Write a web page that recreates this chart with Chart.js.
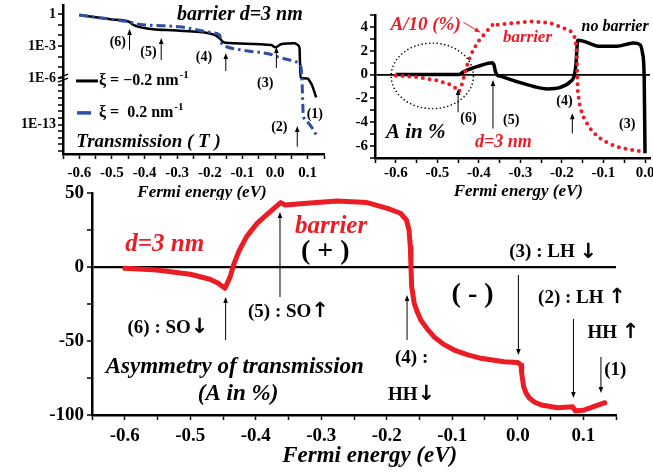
<!DOCTYPE html>
<html><head><meta charset="utf-8">
<script src="https://cdn.jsdelivr.net/npm/chart.js@4/dist/chart.umd.min.js"></script>
<style>
html,body{margin:0;padding:0;width:653px;height:472px;overflow:hidden;background:#fff;position:relative}
canvas{position:absolute}
</style></head><body>
<canvas id="cT" width="360" height="230" style="left:0;top:-30px"></canvas>
<canvas id="cA" width="360" height="230" style="left:330px;top:-30px"></canvas>
<canvas id="cB" width="653" height="312" style="left:0;top:160px"></canvas>
<script>
// ---------- DATA ----------
// Bottom panel: asymmetry of transmission with barrier (d = 3 nm), A in %
const energyBarrier = [-0.6, -0.551, -0.5, -0.47, -0.458, -0.447, -0.443, -0.439, -0.433, -0.426, -0.414, -0.398, -0.381, -0.362, -0.355, -0.322, -0.276, -0.23, -0.199, -0.179, -0.17, -0.166, -0.164, -0.163, -0.162, -0.158, -0.153, -0.148, -0.138, -0.128, -0.113, -0.097, -0.076, -0.056, -0.021, 0.0, 0.005, 0.006, 0.009, 0.013, 0.018, 0.026, 0.036, 0.061, 0.084, 0.088, 0.102, 0.133];
const asymBarrier = [-0.9, -2.0, -4.9, -8.3, -10.8, -14.4, -10.4, -6.5, 2.5, 10.4, 20.5, 29.5, 36.3, 43.5, 41.9, 43.0, 44.6, 43.5, 39.6, 36.3, 31.8, 25.0, 13.7, 0.2, -13.3, -24.5, -30.8, -35.8, -42.0, -47.1, -52.3, -56.1, -59.4, -61.7, -64.0, -64.6, -66.2, -71.8, -80.9, -85.5, -88.7, -91.4, -93.2, -95.1, -94.4, -97.3, -96.6, -91.7];

// Top-right panel: no barrier, A in %
const energyNoBarrier = [-0.6, -0.448, -0.436, -0.396, -0.368, -0.364, -0.36, -0.356, -0.348, -0.308, -0.268, -0.236, -0.204, -0.18, -0.17, -0.166, -0.164, -0.162, -0.148, -0.108, -0.068, -0.028, -0.012, -0.006, -0.002, 0.0];
const asymNoBarrier = [0, 0, 0.25, 0.76, 1.0, 0.85, 0.25, -0.03, -0.13, -0.6, -1.0, -1.2, -1.07, -0.6, -0.03, 0.96, 2.09, 2.88, 2.8, 2.37, 2.37, 2.66, 2.5, 1.8, -0.18, -6.6];

// Top-left panel: transmission T (log10), xi = -0.2 nm^-1 and xi = +0.2 nm^-1
const energyTminus = [-0.6, -0.55, -0.5, -0.448, -0.433, -0.393, -0.292, -0.19, -0.17, -0.16, -0.153, -0.011, 0.001, 0.02, 0.06, 0.07, 0.075, 0.078, 0.1, 0.104, 0.113, 0.126];
const logTminus = [-0.09, -0.3, -0.5, -0.72, -1.03, -1.34, -1.56, -1.9, -2.27, -2.59, -2.68, -2.9, -3.11, -2.8, -2.74, -2.9, -3.2, -5.95, -6.05, -6.27, -7.03, -8.89];
const energyTplus = [-0.6, -0.55, -0.5, -0.448, -0.423, -0.392, -0.292, -0.19, -0.17, -0.164, -0.149, -0.088, -0.017, 0.013, 0.064, 0.079, 0.082, 0.084, 0.086, 0.089, 0.099, 0.114, 0.126];
const logTplus = [-0.09, -0.3, -0.5, -0.72, -0.93, -1.03, -1.19, -1.75, -1.96, -2.74, -3.06, -3.43, -3.74, -4.05, -4.46, -4.92, -5.86, -8.27, -11.29, -12.05, -12.56, -13.55, -14.56];

// Tick labels
const xMajorWide = [-0.6, -0.5, -0.4, -0.3, -0.2, -0.1, 0.0, 0.1];
const xMajorRight = [-0.6, -0.5, -0.4, -0.3, -0.2, -0.1, 0.0];
const yMajorBottom = [50, 0, -50, -100];
const yMajorRight = [4, 2, 0, -2, -4, -6];
const logMajorTop = [0, -3, -6, -13];
const logMajorLabels = ['1', '1E-3', '1E-6', '1E-13'];

// ---------- STYLE ----------
const SERIF = '"Liberation Serif", "Times New Roman", serif';
const SANS = '"DejaVu Sans", sans-serif';
const RED = '#ec1c24', BLUE = '#2f4ea6';
const F = (size, italic) => (italic ? 'italic ' : '') + 'bold ' + size + 'px ' + SERIF;
Chart.defaults.font.family = SERIF;
Chart.defaults.font.weight = 'bold';
Chart.defaults.color = '#000';

// axis break on the transmission axis (below 1E-6 the decades are compressed)
const BREAK = -6, SQUEEZE = 0.62;
const tPos = lg => lg >= BREAK ? lg : BREAK + (lg - BREAK) * SQUEEZE;

function near(arr, v) { return arr.findIndex(q => Math.abs(q - v) < 1e-6); }
const tickFont = size => ({ family: SERIF, size, weight: 'bold', style: 'normal', lineHeight: 1.2 });

function xAxis(min, max, majors, h, size, pad) {
  return {
    type: 'linear', min, max,
    afterBuildTicks(s) { const t = []; for (let k = Math.ceil(min / 0.05 - 1e-9); k * 0.05 <= max + 1e-9; k++) t.push({ value: Math.round(k * 5) / 100 }); s.ticks = t; },
    afterFit(s) { s.height = h; },
    ticks: { autoSkip: false, maxRotation: 0, minRotation: 0, padding: pad, color: '#000', font: tickFont(size),
      callback(v) { const i = near(majors, v); return i < 0 ? '' : majors[i].toFixed(1); } },
    grid: { drawOnChartArea: false, drawTicks: true, tickLength: 5, tickColor: '#000', tickWidth: 1.5 },
    border: { display: true, color: '#000', width: 2.5 }
  };
}
function yAxis(min, max, tickVals, majors, labels, w, size, pad, zeroLine) {
  return {
    type: 'linear', min, max,
    afterBuildTicks(s) { s.ticks = tickVals.map(v => ({ value: v })); },
    afterFit(s) { s.width = w; },
    ticks: { autoSkip: false, padding: pad, color: '#000', font: tickFont(size),
      callback(v) { const i = near(majors, v); return i < 0 ? '' : labels[i]; } },
    grid: { drawOnChartArea: !!zeroLine, drawTicks: true, tickLength: 5, tickColor: '#000', tickWidth: 1.5,
      color: c => (zeroLine && c.tick && Math.abs(c.tick.value) < 1e-9) ? '#000' : 'rgba(0,0,0,0)',
      lineWidth: c => (zeroLine && c.tick && Math.abs(c.tick.value) < 1e-9) ? zeroLine : 0 },
    border: { display: true, color: '#000', width: 2.5 }
  };
}

// ---------- drawing helpers ----------
function P(ch, x, y) { return [ch.scales.x.getPixelForValue(x), ch.scales.y.getPixelForValue(y)]; }
function txt(ch, s, x, y, font, color, align) {
  const ctx = ch.ctx, [X, Y] = P(ch, x, y);
  ctx.save(); ctx.font = font; ctx.fillStyle = color || '#000'; ctx.textAlign = align || 'center'; ctx.textBaseline = 'middle';
  ctx.fillText(s, X, Y); ctx.restore();
  return X;
}
// label followed by a big bold arrow glyph (spin up / down), centred on the data point
function spinTxt(ch, main, arr, x, y, size) {
  const ctx = ch.ctx, [X, Y] = P(ch, x, y);
  ctx.save(); ctx.fillStyle = '#000'; ctx.textBaseline = 'middle'; ctx.textAlign = 'left';
  ctx.font = F(size); const w1 = ctx.measureText(main).width;
  ctx.font = 'bold ' + Math.round(size * 1.1) + 'px ' + SANS; const w2 = ctx.measureText(arr).width;
  const x0 = X - (w1 + w2) / 2;
  ctx.font = F(size); ctx.fillText(main, x0, Y);
  ctx.font = 'bold ' + Math.round(size * 1.1) + 'px ' + SANS; ctx.fillText(arr, x0 + w1, Y);
  ctx.restore();
}
function arrow(ch, x1, y1, x2, y2, color, w) {
  const ctx = ch.ctx, [a, b] = P(ch, x1, y1), [c, d] = P(ch, x2, y2);
  color = color || '#000';
  const ang = Math.atan2(d - b, c - a), L = 6, W = 2.3;
  ctx.save(); ctx.strokeStyle = color; ctx.fillStyle = color; ctx.lineWidth = w || 1;
  ctx.beginPath(); ctx.moveTo(a, b); ctx.lineTo(c - (L - 1) * Math.cos(ang), d - (L - 1) * Math.sin(ang)); ctx.stroke();
  ctx.beginPath(); ctx.moveTo(c, d);
  ctx.lineTo(c - L * Math.cos(ang) + W * Math.sin(ang), d - L * Math.sin(ang) - W * Math.cos(ang));
  ctx.lineTo(c - L * Math.cos(ang) - W * Math.sin(ang), d - L * Math.sin(ang) + W * Math.cos(ang));
  ctx.closePath(); ctx.fill(); ctx.restore();
}
function xTitle(ch, s, x, dy, size) {
  const ctx = ch.ctx; ctx.save(); ctx.font = F(size, true); ctx.fillStyle = '#000'; ctx.textAlign = 'center'; ctx.textBaseline = 'middle';
  ctx.fillText(s, ch.scales.x.getPixelForValue(x), ch.chartArea.bottom + dy); ctx.restore();
}
// text with a superscript suffix, left aligned at data point
function supTxt(ch, main, sup, x, y, size) {
  const ctx = ch.ctx, [X, Y] = P(ch, x, y);
  ctx.save(); ctx.fillStyle = '#000'; ctx.textAlign = 'left'; ctx.textBaseline = 'middle';
  ctx.font = F(size); ctx.fillText(main, X, Y);
  const w = ctx.measureText(main).width;
  ctx.font = F(Math.round(size * 0.68)); ctx.fillText(sup, X + w + 1, Y - size * 0.35);
  ctx.restore();
}
const pts = (xs, ys, f) => xs.map((x, i) => ({ x, y: f ? f(ys[i]) : ys[i] }));

// ---------- TOP-LEFT: transmission ----------
const decadeTicks = []; for (let d = 0; d >= -17; d--) decadeTicks.push(tPos(d));
new Chart(document.getElementById('cT'), {
  type: 'line',
  data: { datasets: [
    { label: 'ξ = 0.2 nm-1', data: pts(energyTplus, logTplus, tPos), borderColor: BLUE, borderWidth: 3, borderDash: [9, 4, 2.5, 4], pointRadius: 0, cubicInterpolationMode: 'monotone' },
    { label: 'ξ = −0.2 nm-1', data: pts(energyTminus, logTminus, tPos), borderColor: '#000', borderWidth: 2.5, pointRadius: 0, cubicInterpolationMode: 'monotone' }
  ] },
  options: {
    responsive: false, animation: false, devicePixelRatio: 1,
    layout: { padding: { left: 0, top: 35, right: 36, bottom: 0 } },
    plugins: { legend: { display: false }, tooltip: { enabled: false } },
    scales: {
      x: xAxis(-0.65, 0.15, xMajorWide, 46, 15, 5),
      y: yAxis(-13.1, 0.85, decadeTicks, logMajorTop.map(tPos), logMajorLabels, 63, 14, 2, 0)
    }
  },
  plugins: [{ id: 'annT', afterDraw(ch) {
    const ctx = ch.ctx;
    txt(ch, 'barrier d=3 nm', -0.108, -0.09, F(20, true));
    txt(ch, '(6)', -0.482, -2.62, F(14)); arrow(ch, -0.446, -3.36, -0.446, -1.4);
    txt(ch, '(5)', -0.388, -3.55, F(14)); arrow(ch, -0.349, -4.3, -0.349, -2.24);
    txt(ch, '(4)', -0.218, -4.02, F(14)); arrow(ch, -0.151, -5.33, -0.151, -3.64);
    txt(ch, '(3)', -0.03, -6.45, F(14)); arrow(ch, 0.004, -5.05, 0.004, -3.08);
    txt(ch, '(2)', 0.013, -10.65, F(14)); arrow(ch, 0.068, -12.43, 0.068, -10.47);
    txt(ch, '(1)', 0.122, -9.35, F(14));
    // legend
    let [a, b] = P(ch, -0.61, -6.26), [c] = P(ch, -0.543, 0);
    ctx.save(); ctx.strokeStyle = '#000'; ctx.lineWidth = 3; ctx.beginPath(); ctx.moveTo(a, b); ctx.lineTo(c, b); ctx.stroke(); ctx.restore();
    supTxt(ch, 'ξ = −0.2 nm', '-1', -0.54, -6.26, 16);
    [a, b] = P(ch, -0.607, -9.25); [c] = P(ch, -0.564, 0);
    ctx.save(); ctx.strokeStyle = BLUE; ctx.lineWidth = 3.5; ctx.beginPath(); ctx.moveTo(a, b); ctx.lineTo(c, b); ctx.stroke(); ctx.restore();
    supTxt(ch, 'ξ =  0.2 nm', '-1', -0.54, -9.25, 16);
    txt(ch, 'Transmission ( T )', -0.388, -11.96, F(19, true));
    // axis break mark
    const [bx, by] = P(ch, -0.65, tPos(-6));
    ctx.save(); ctx.strokeStyle = '#000'; ctx.lineWidth = 1.3;
    [-2, 2].forEach(o => { ctx.beginPath(); ctx.moveTo(bx - 5, by + o + 2); ctx.lineTo(bx + 5, by + o - 2); ctx.stroke(); });
    ctx.restore();
    xTitle(ch, 'Fermi energy (eV)', -0.224, 39, 17);
  } }]
});

// ---------- TOP-RIGHT: A in % ----------
new Chart(document.getElementById('cA'), {
  type: 'line',
  data: { datasets: [
    { label: 'A/10 (%) barrier', data: energyBarrier.map((x, i) => ({ x, y: asymBarrier[i] / 10 })).filter(p => p.x <= 0), borderColor: RED, borderWidth: 4, borderDash: [0, 6.8], borderCapStyle: 'round', pointRadius: 0, tension: 0 },
    { label: 'no barrier', data: pts(energyNoBarrier, asymNoBarrier), borderColor: '#000', borderWidth: 3.5, pointRadius: 0, cubicInterpolationMode: 'monotone' }
  ] },
  options: {
    responsive: false, animation: false, devicePixelRatio: 1,
    layout: { padding: { left: 0, top: 45, right: 40, bottom: 0 } },
    plugins: { legend: { display: false }, tooltip: { enabled: false } },
    scales: {
      x: xAxis(-0.65, 0.012, xMajorRight, 42, 15, 1),
      y: yAxis(-7, 5, [-7, -6, -5, -4, -3, -2, -1, 0, 1, 2, 3, 4, 5], yMajorRight, yMajorRight.map(String), 45, 15, 2, 1.8)
    }
  },
  plugins: [{ id: 'annA', afterDraw(ch) {
    const ctx = ch.ctx;
    txt(ch, 'A/10 (%)', -0.528, 4.13, F(19, true), RED);
    arrow(ch, -0.437, 4.38, -0.396, 3.53, RED, 1);
    txt(ch, 'barrier', -0.283, 3.11, F(17, true), RED);
    txt(ch, 'no barrier', -0.072, 4.04, F(16, true));
    txt(ch, '(6)', -0.425, -3.68, F(14)); arrow(ch, -0.45, -3.16, -0.45, -1.21);
    txt(ch, '(5)', -0.322, -3.85, F(14)); arrow(ch, -0.366, -4.52, -0.366, -0.45);
    txt(ch, '(4)', -0.194, -2.23, F(14)); arrow(ch, -0.175, -4.94, -0.175, -3.25);
    txt(ch, '(3)', -0.043, -4.18, F(14));
    txt(ch, 'A in %', -0.552, -4.86, F(21, true));
    txt(ch, 'd=3 nm', -0.341, -5.7, F(18, true), RED);
    // dotted ellipse around the low-energy region
    const [cx, cy] = P(ch, -0.512, -0.11), [ex] = P(ch, -0.512 + 0.099, 0), [, ey] = P(ch, 0, -0.11 + 2.75);
    ctx.save(); ctx.strokeStyle = '#000'; ctx.lineWidth = 1.4; ctx.setLineDash([1.4, 2.4]);
    ctx.beginPath(); ctx.ellipse(cx, cy, ex - cx, cy - ey, 0, 0, Math.PI * 2); ctx.stroke(); ctx.restore();
    xTitle(ch, 'Fermi energy (eV)', -0.305, 34, 17);
  } }]
});

// ---------- BOTTOM: asymmetry of transmission ----------
new Chart(document.getElementById('cB'), {
  type: 'line',
  data: { datasets: [
    { label: 'barrier d=3 nm', data: pts(energyBarrier, asymBarrier), borderColor: RED, borderWidth: 5, borderCapStyle: 'round', borderJoinStyle: 'round', pointRadius: 0, tension: 0 }
  ] },
  options: {
    responsive: false, animation: false, devicePixelRatio: 1,
    layout: { padding: { left: 0, top: 33, right: 37, bottom: 0 } },
    plugins: { legend: { display: false }, tooltip: { enabled: false } },
    scales: {
      x: xAxis(-0.65, 0.15, xMajorWide, 57, 19, 5),
      y: yAxis(-100, 50, [-100, -75, -50, -25, 0, 25, 50], yMajorBottom, yMajorBottom.map(String), 92, 19, 3, 2.2)
    }
  },
  plugins: [{ id: 'annB', afterDraw(ch) {
    txt(ch, 'd=3 nm', -0.539, 15.5, F(25, true), RED);
    txt(ch, 'barrier', -0.285, 27, F(25, true), RED);
    txt(ch, '( + )', -0.294, 10.1, F(28));
    txt(ch, '( - )', -0.069, -18.9, F(28));
    spinTxt(ch, '(6) : SO', '↓', -0.534, -41.2, 19); arrow(ch, -0.446, -49.3, -0.446, -20.3);
    spinTxt(ch, '(5) : SO', '↑', -0.35, -30.4, 19); arrow(ch, -0.363, -20.3, -0.363, 37.2);
    txt(ch, '(4) :', -0.162, -61.5, F(19));
    spinTxt(ch, 'HH', '↓', -0.162, -86.5, 19); arrow(ch, -0.169, -49.3, -0.169, -18.9);
    spinTxt(ch, '(3) : LH ', '↓', 0.054, 10.1, 19); arrow(ch, 0.001, -5.4, 0.001, -59.5);
    spinTxt(ch, '(2) : LH ', '↑', 0.098, -20.9, 19); arrow(ch, 0.085, -35.1, 0.085, -88.5);
    spinTxt(ch, 'HH ', '↑', 0.146, -44.6, 19);
    txt(ch, '(1)', 0.149, -69.6, F(19)); arrow(ch, 0.127, -60.8, 0.127, -85.1);
    txt(ch, 'Asymmetry of transmission', -0.432, -67.6, F(23, true));
    txt(ch, '(A in %)', -0.427, -85.8, F(23, true));
    xTitle(ch, 'Fermi energy (eV)', -0.226, 41, 23);
  } }]
});
</script>
</body></html>
